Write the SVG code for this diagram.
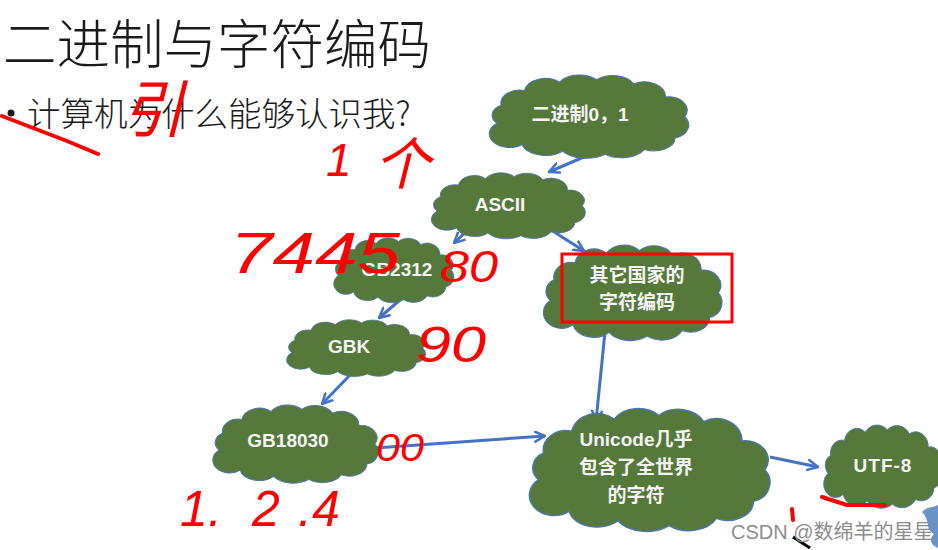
<svg xmlns="http://www.w3.org/2000/svg" width="938" height="550" viewBox="0 0 938 550">
<style>
.title{font-family:"Noto Sans CJK SC","Liberation Sans",sans-serif;font-weight:300;fill:#1a1a1a}
.cloud{fill:#55793A;stroke:#4A76A8;stroke-width:1.2}
.lbl{font-family:"Liberation Sans","Noto Sans CJK SC",sans-serif;font-weight:bold;font-size:19px;fill:#F4F4F4;text-anchor:middle}
.conn{stroke:#4472C4;stroke-width:3;fill:none}
.ink{stroke:#FF0000;stroke-width:4;fill:none;stroke-linecap:round;stroke-linejoin:round}
.inkt{font-family:"Liberation Sans","Noto Sans CJK SC",sans-serif;fill:#FF0000;font-style:italic}
.wm{font-family:"Liberation Sans","Noto Sans CJK SC",sans-serif;font-size:20px;fill:#8C8C8C}
</style>
<defs>
<path id="cl" d="M16,60 A16,14 0 0 1 20,38 A18,16 0 0 1 42,20 A20,18 0 0 1 75,10 A22,18 0 0 1 110,7 A22,18 0 0 1 145,12 A20,18 0 0 1 175,28 A18,16 0 0 1 193,52 A16,16 0 0 1 184,78 A20,16 0 0 1 155,92 A24,18 0 0 1 118,98 A26,18 0 0 1 78,94 A22,16 0 0 1 40,86 A16,14 0 0 1 16,60 Z"/>
<marker id="ah" viewBox="0 0 12 12" refX="11" refY="6" markerWidth="12" markerHeight="12" markerUnits="userSpaceOnUse" orient="auto">
<path d="M1,1 L11,6 L1,11" fill="none" stroke="#4472C4" stroke-width="2.5" stroke-linecap="round" stroke-linejoin="round"/>
</marker>
</defs>
<rect width="938" height="550" fill="#FFFFFF"/>
<text class="title" x="3" y="64" font-size="53.5">二进制与字符编码</text>
<circle cx="11" cy="113" r="3.5" fill="#1a1a1a"/>
<text class="title" x="27" y="126" font-size="33.5">计算机为什么能够认识我?</text>

<g id="connectors">
<line class="conn" x1="586" y1="156" x2="549" y2="172" marker-end="url(#ah)"/>
<line class="conn" x1="468" y1="230" x2="454" y2="243" marker-end="url(#ah)"/>
<line class="conn" x1="548" y1="228" x2="584" y2="251" marker-end="url(#ah)"/>
<line class="conn" x1="400" y1="300" x2="379" y2="318" marker-end="url(#ah)"/>
<line class="conn" x1="350" y1="375" x2="322" y2="404" marker-end="url(#ah)"/>
<line class="conn" x1="605" y1="332" x2="596" y2="421" marker-end="url(#ah)"/>
<line class="conn" x1="375" y1="448" x2="545" y2="436" marker-end="url(#ah)"/>
<line class="conn" x1="770" y1="457" x2="818" y2="467" marker-end="url(#ah)"/>
</g>

<g id="n-binary">
<use href="#cl" class="cloud" transform="translate(480,74) scale(1.06,0.82)"/>
<text class="lbl" x="580" y="121">二进制0，1</text>
</g>
<g id="n-ascii">
<use href="#cl" class="cloud" transform="translate(424,172) scale(0.82,0.65)"/>
<text class="lbl" x="500" y="211">ASCII</text>
</g>
<g id="n-gb2312">
<use href="#cl" class="cloud" transform="translate(328,237) scale(0.64,0.64)"/>
<text class="lbl" x="397" y="276">GB2312</text>
</g>
<g id="n-other">
<use href="#cl" class="cloud" transform="translate(535,244) scale(0.95,0.94)"/>
<text class="lbl" x="637" y="282">其它国家的</text>
<text class="lbl" x="637" y="309">字符编码</text>
</g>
<g id="n-gbk">
<use href="#cl" class="cloud" transform="translate(280,319) scale(0.74,0.56)"/>
<text class="lbl" x="349" y="353">GBK</text>
</g>
<g id="n-gb18030">
<use href="#cl" class="cloud" transform="translate(205,404) scale(0.88,0.77)"/>
<text class="lbl" x="288" y="447">GB18030</text>
</g>
<g id="n-unicode">
<use href="#cl" class="cloud" transform="translate(518,407) scale(1.28,1.21)"/>
<text class="lbl" x="636" y="446">Unicode几乎</text>
<text class="lbl" x="636" y="474">包含了全世界</text>
<text class="lbl" x="636" y="502">的字符</text>
</g>
<g id="n-utf8">
<use href="#cl" class="cloud" transform="translate(818,424) scale(0.63,0.82)"/>
<text class="lbl" x="883" y="472" font-size="21" letter-spacing="1">UTF-8</text>
</g>

<g id="annotations">
<rect x="562" y="254" width="170" height="68" fill="none" stroke="#FF0000" stroke-width="3"/>
<path class="ink" d="M2,116 L33,128 L67,141 L98,154"/>
<path class="ink" d="M822,497 L847,505 L885,505"/>
<path class="ink" d="M792,509 L793,520" stroke-width="3"/>
<path d="M793,537 L810,548" stroke="#000" stroke-width="3" fill="none"/>
<text class="inkt" x="122" y="132" font-size="62" font-style="normal">引</text>
<text class="inkt" x="326" y="176" font-size="46">1</text>
<text class="inkt" x="374" y="184" font-size="56" font-style="normal">个</text>
<text class="inkt" x="230" y="273" font-size="58" textLength="170" lengthAdjust="spacingAndGlyphs">7445</text>
<text class="inkt" x="440" y="282" font-size="44" textLength="58" lengthAdjust="spacingAndGlyphs">80</text>
<text class="inkt" x="416" y="362" font-size="50" textLength="70" lengthAdjust="spacingAndGlyphs">90</text>
<text class="inkt" x="376" y="461" font-size="38" textLength="48" lengthAdjust="spacingAndGlyphs">00</text>
<text class="inkt" x="180 208 252 298 312" y="526" font-size="50">1.2.4</text>
</g>

<text class="wm" x="731" y="539">CSDN @数绵羊的星星</text>
<path d="M922,512 C930,520 926,530 934,534 C928,540 932,546 938,548 L938,505 C932,508 928,506 922,512 Z" fill="#6A93C8"/>
</svg>
